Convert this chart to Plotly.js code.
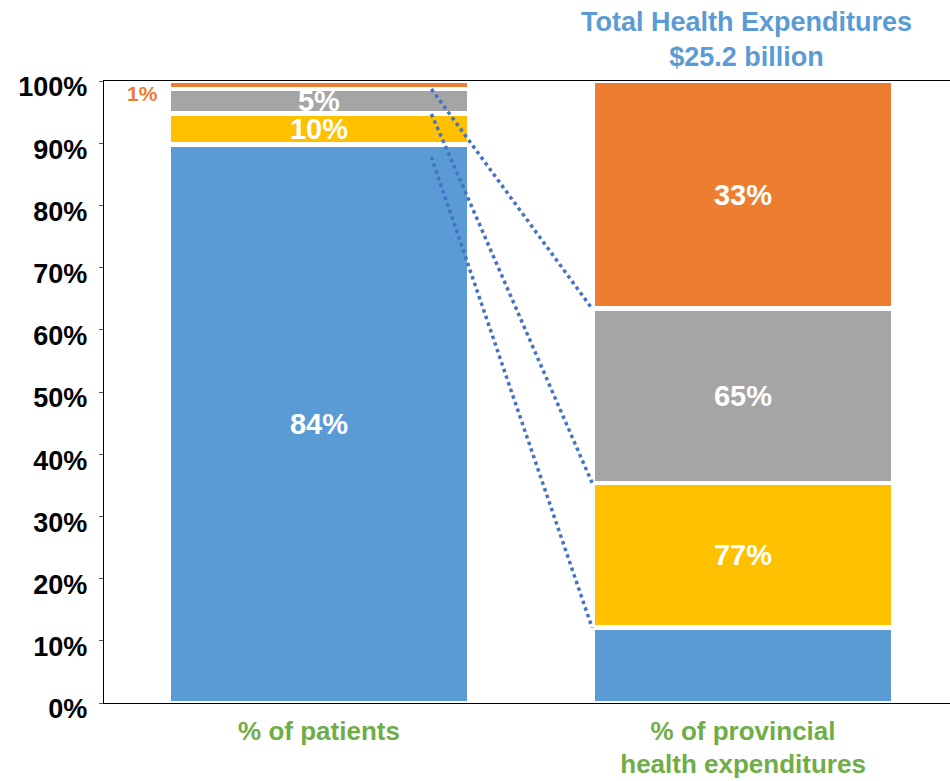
<!DOCTYPE html>
<html>
<head>
<meta charset="utf-8">
<script src="https://cdn.plot.ly/plotly-3.0.1.min.js"></script>
<style>html,body{margin:0;padding:0;background:#fff;}#chart{width:950px;height:781px;}</style>
</head>
<body>
<div id="chart"></div>
<script>
// ---- data ----
var categories = ['% of patients', '% of provincial<br>health expenditures'];
var blueVals   = [89.8, 12.1];
var yellowVals = [5.0, 23.3];
var grayVals   = [3.9, 28.0];
var orangeVals = [1.3, 36.6];
var blueLabels   = ['84%', ''];
var yellowLabels = ['10%', '77%'];
var grayLabels   = ['5%', '65%'];
var orangeLabels = ['1%', '33%'];
var connectorFrom = [98.7, 94.7, 87.8];   // left-bar start levels (%)
var titleText = 'Total Health Expenditures<br>$25.2 billion';

// ---- derived ----
var xPos = [0, 1];
var s1 = blueVals[1], s2 = s1 + yellowVals[1], s3 = s2 + grayVals[1];
var cumRight = [s3, s2, s1];

var FONT = 'Liberation Sans, Arial, sans-serif';
var barW = 0.71;
function barTrace(vals, labels, color){
  return {
    type: 'bar', x: xPos, y: vals, width: barW,
    marker: {color: color, line: {color: '#ffffff', width: 4.6}},
    text: labels, textposition: 'inside', insidetextanchor: 'middle',
    textangle: 0, constraintext: 'none', cliponaxis: false,
    textfont: {family: FONT, size: 29, color: '#ffffff', weight: 700},
    hoverinfo: 'skip', showlegend: false
  };
}
var data = [
  barTrace(blueVals, blueLabels, '#5B9BD5'),
  barTrace(yellowVals, yellowLabels, '#FFC000'),
  barTrace(grayVals, grayLabels, '#A5A5A5'),
  barTrace(orangeVals, ['', orangeLabels[1]], '#ED7D31')
];

var connX0 = 0.265, connX1 = 0.644;
var shapes = connectorFrom.map(function(v, i){
  return {type: 'line', xref: 'x', yref: 'y', x0: connX0, x1: connX1, y0: v, y1: cumRight[i],
          line: {color: '#4472C4', width: 3.5, dash: 'dot'}, layer: 'above'};
});

var layout = {
  width: 950, height: 781,
  margin: {l: 104, r: 0, t: 81, b: 78},
  paper_bgcolor: '#ffffff', plot_bgcolor: 'rgba(0,0,0,0)',
  barmode: 'stack',
  showlegend: false,
  xaxis: {range: [-0.507, 1.488], tickvals: xPos, ticktext: categories,
          showgrid: false, zeroline: false, showline: true, mirror: true,
          linecolor: '#000000', linewidth: 1.3, ticks: '', ticklabelstandoff: 4,
          tickfont: {family: FONT, size: 26, color: '#70AD47', weight: 700}},
  yaxis: {range: [0, 100], dtick: 10, tick0: 0, ticksuffix: '%',
          showgrid: false, zeroline: false, showline: true, linecolor: '#000000', linewidth: 1.3,
          ticks: 'outside', ticklen: 4, tickcolor: '#555555', ticklabelstandoff: 6, ticklabelshift: 6,
          tickfont: {family: FONT, size: 27, color: '#000000', weight: 700}},
  yaxis2: {overlaying: 'y', range: [0, 100], dtick: 20, tick0: 0, showgrid: true,
           gridcolor: '#1a1a1a', gridwidth: 1.2, showticklabels: false, ticks: '',
           showline: false, zeroline: false, side: 'left'},
  shapes: shapes,
  annotations: [{
    xref: 'x', yref: 'y', x: -barW / 2, y: 100, xanchor: 'right', yanchor: 'middle',
    xshift: -8, yshift: -12, showarrow: false, text: orangeLabels[0],
    font: {family: FONT, size: 21, color: '#ED7D31', weight: 700}
  }, {
    xref: 'x', yref: 'paper', x: 1, y: 1, xanchor: 'center', yanchor: 'middle',
    xshift: 3, yshift: 42, showarrow: false, text: titleText,
    font: {family: FONT, size: 27, color: '#5B9BD5', weight: 700}
  }]
};

Plotly.newPlot('chart', data, layout, {displayModeBar: false, staticPlot: true});
</script>
</body>
</html>
